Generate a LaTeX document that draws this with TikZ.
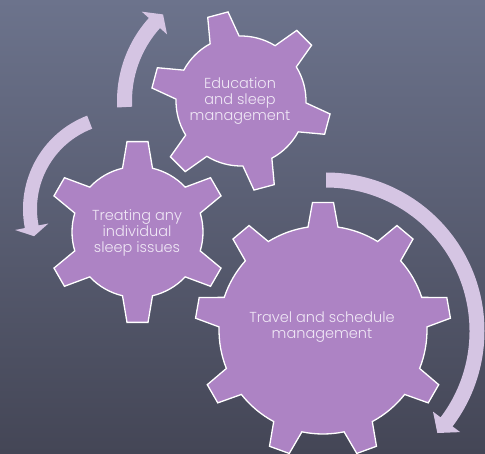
\documentclass[tikz,border=0pt]{standalone}
\usepackage{fontspec}
\IfFontExistsTF{Poppins Light}{\setmainfont{Poppins Light}}{\setmainfont{Poppins}}
\definecolor{bgtop}{RGB}{108,115,140}
\definecolor{bgbot}{RGB}{68,70,86}
\definecolor{cogfill}{RGB}{173,131,196}
\definecolor{arrowfill}{RGB}{213,197,227}
\definecolor{labeltext}{RGB}{240,232,246}
\tikzset{
  cogstyle/.style={fill=cogfill, draw=white, line width=1.3pt, line join=miter},
  arrowstyle/.style={fill=arrowfill},
  labelstyle/.style={text=labeltext, align=center,
    font=\fontsize{14.5}{16}\selectfont},
  % cog: teeth / first tooth angle / body radius / tip radius
  pics/cog/.style args={#1/#2/#3/#4}{code={
    \pgfmathsetmacro\cogstep{360/#1}
    \pgfmathsetmacro\cogbase{asin(15/#3)}
    \pgfmathsetmacro\cogtip{asin(10.5/#4)}
    \path[cogstyle] ({#2-\cogbase}:#3)
      \foreach \k in {1,...,#1}{
        -- ({#2+(\k-1)*\cogstep-\cogtip}:#4)
        -- ({#2+(\k-1)*\cogstep+\cogtip}:#4)
        -- ({#2+(\k-1)*\cogstep+\cogbase}:#3)
        arc[start angle={#2+(\k-1)*\cogstep+\cogbase},
            end angle={#2+\k*\cogstep-\cogbase}, radius=#3]
      } -- cycle;
  }},
  % curved arrow: mid radius / half width / start angle / head angle / tip angle
  pics/bentarrow/.style args={#1/#2/#3/#4/#5}{code={
    \path[arrowstyle] ({#3}:{#1+#2})
      arc[start angle={#3}, end angle={#4}, radius={#1+#2}]
      -- ({#4}:{#1+17}) -- ({#5}:{#1}) -- ({#4}:{#1-17})
      -- ({#4}:{#1-#2})
      arc[start angle={#4}, end angle={#3}, radius={#1-#2}]
      -- cycle;
  }}
}
\begin{document}
\begin{tikzpicture}[x=1pt,y=1pt]
\useasboundingbox (0,0) rectangle (485,453);
\shade[top color=bgtop, bottom color=bgbot] (0,0) rectangle (485,453);

% centres of the three cogs
\coordinate (c1) at (241,352);
\coordinate (c2) at (137.5,221);
\coordinate (c3) at (323,123);

% cogs
\pic at (c1) {cog=6/105/65/90};
\pic at (c2) {cog=6/90/65.5/91};
\pic at (c3) {cog=9/90/104/128};

% curved arrows
\coordinate (a1) at (241,352);
\coordinate (a2) at (123,244);
\coordinate (a3) at (326,122);
\pic at (a1) {bentarrow=116.5/7.5/183/138/132};
\pic at (a2) {bentarrow=93/7/111/191/197};
\pic at (a3) {bentarrow=151/7.5/90/-37/-42.5};

% labels
\node[labelstyle] (edu) at (240,352) {Education\\and sleep\\management};
\node[labelstyle] (treat) at (137,220.5) {Treating any\\individual\\sleep issues};
\node[labelstyle] (travel) at (322,126) {Travel and schedule\\management};
\end{tikzpicture}
\end{document}
